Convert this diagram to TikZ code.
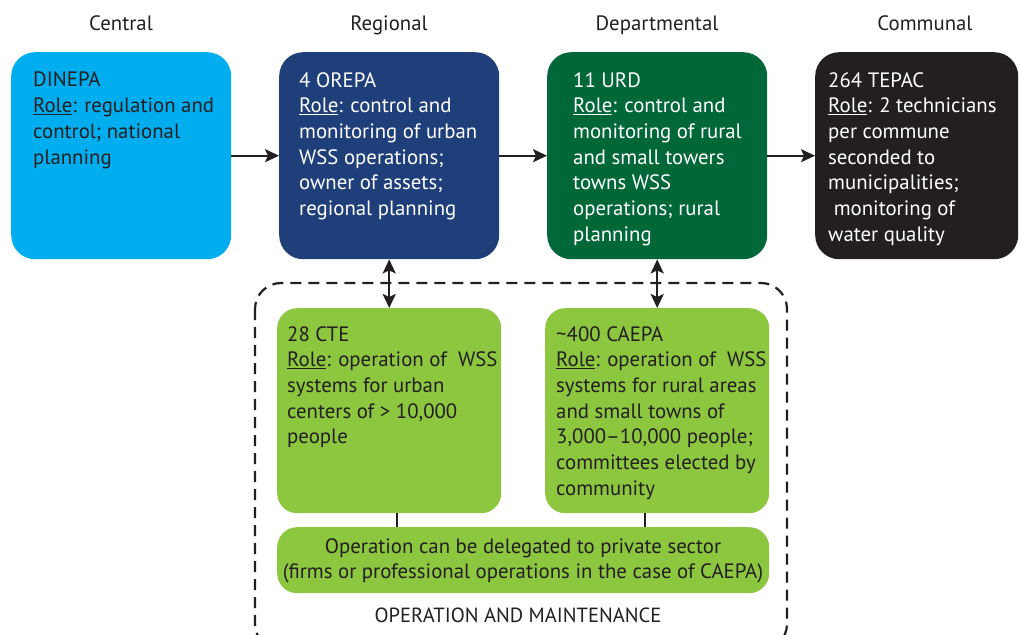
\documentclass[tikz,border=0pt]{standalone}
\usepackage{fontspec}
\setmainfont{PT Sans}
\usetikzlibrary{arrows.meta}
\definecolor{cblue}{HTML}{00AEEF}
\definecolor{dblue}{HTML}{1F3F7B}
\definecolor{dgreen}{HTML}{006838}
\definecolor{cblack}{HTML}{231F20}
\definecolor{lgreen}{HTML}{8DC63F}
\definecolor{ink}{HTML}{231F20}
\tikzset{
  box/.style={rounded corners=24pt, inner sep=0pt, anchor=north west},
  gbox/.style={box, fill=lgreen, rounded corners=20pt},
  txt/.style={anchor=north west, inner sep=0pt, align=left, font=\fontsize{20.8}{25.7}\selectfont},
  hdr/.style={inner sep=0pt, anchor=base, text=ink, font=\fontsize{20.8}{24}\selectfont},
  arr/.style={draw=ink, line width=2.4pt, -{Stealth[length=14pt,width=13pt,inset=3pt]}},
  darr/.style={draw=ink, line width=2.4pt, {Stealth[length=14pt,width=13pt,inset=3pt]}-{Stealth[length=14pt,width=13pt,inset=3pt]}},
  link/.style={draw=ink, line width=2.4pt},
}
\newcommand{\rl}{\underline{Role}}
\begin{document}
\begin{tikzpicture}[x=1pt,y=-1pt]
\useasboundingbox (0,0) rectangle (1019,634);
% headers
\node[hdr] (h1) at (121,31) {Central};
\node[hdr] (h2) at (389,31) {Regional};
\node[hdr] (h3) at (657,31) {Departmental};
\node[hdr] (h4) at (925,31) {Communal};
% dashed frame
\draw[ink, line width=2.2pt, dash pattern=on 11pt off 7pt, rounded corners=26pt] (255,283) rectangle (787,650);
% top boxes
\node[box, fill=cblue, minimum width=220pt, minimum height=207pt] (dinepa) at (11,52) {};
\node[box, fill=dblue, minimum width=220pt, minimum height=207pt] (orepa) at (279,52) {};
\node[box, fill=dgreen, minimum width=220pt, minimum height=207pt] (urd) at (547,52) {};
\node[box, fill=cblack, minimum width=203pt, minimum height=207pt] (tepac) at (815,52) {};
\node[txt, text=ink] (t1) at (33,72) {DINEPA\\\rl: regulation and\\control; national\\planning};
\node[txt, text=white] (t2) at (299,72) {4 OREPA\\\rl: control and\\monitoring of urban\\WSS operations;\\owner of assets;\\regional planning};
\node[txt, text=white] (t3) at (573,72) {11 URD\\\rl: control and\\monitoring of rural\\and small towers\\towns WSS\\operations; rural\\planning};
\node[txt, text=white] (t4) at (828,72) {264 TEPAC\\\rl: 2 technicians\\per commune\\seconded to\\municipalities;\\\ monitoring of\\water quality};
% green boxes
\node[gbox, minimum width=224pt, minimum height=205pt] (cte) at (277,308) {};
\node[gbox, minimum width=224pt, minimum height=205pt] (caepa) at (545,308) {};
\node[gbox, minimum width=492pt, minimum height=66pt] (priv) at (277,527) {};
\node[txt, text=ink] (t5) at (287,326) {28 CTE\\\rl: operation of\ \ WSS\\systems for urban\\centers of > 10,000\\people};
\node[txt, text=ink] (t6) at (556,326) {\textasciitilde400 CAEPA\\\rl: operation of\ \ WSS\\systems for rural areas\\and small towns of\\3,000–10,000 people;\\committees elected by\\community};
\node[inner sep=0pt, align=center, text=ink, font=\fontsize{20.8}{25}\selectfont] (t7) at (523,561) {Operation can be delegated to private sector\\(firms or professional operations in the case of CAEPA)};
\node[inner sep=0pt, text=ink, font=\fontsize{20.5}{22}\selectfont] (om) at (518,615) {OPERATION AND MAINTENANCE};
% arrows
\draw[arr] (dinepa.east) -- (orepa.west);
\draw[arr] (orepa.east) -- (urd.west);
\draw[arr] (urd.east) -- (tepac.west);
\draw[darr] (orepa.south) -- (cte.north);
\draw[darr] (urd.south) -- (caepa.north);
\draw[link] (cte.south) ++(8,0) coordinate (c1) -- (c1 |- priv.north);
\draw[link] (caepa.south) ++(-12,0) coordinate (c2) -- (c2 |- priv.north);
\end{tikzpicture}
\end{document}
